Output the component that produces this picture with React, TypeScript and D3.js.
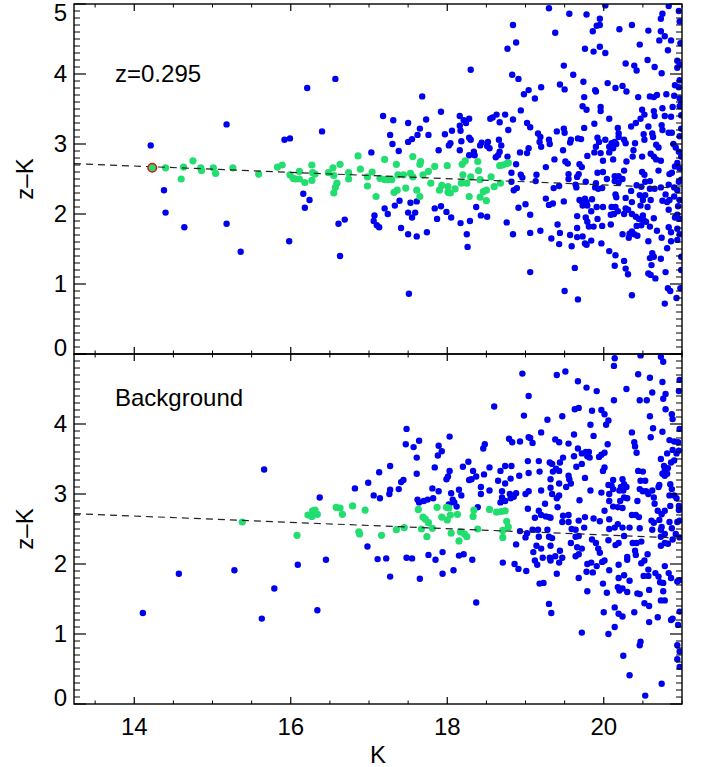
import React from "react";
import * as d3 from "d3";

type P = [number, number];

// K, z-K : cluster field (top panel)
const topGreen: P[] = [
  [14.23,2.66],[14.40,2.66],[14.60,2.50],[14.63,2.67],[14.75,2.76],[14.85,2.66],[14.86,2.62],[15.01,2.66],[15.04,2.58],[15.26,2.66],
  [15.59,2.57],[15.83,2.67],[15.89,2.70],[15.99,2.56],[16.03,2.51],[16.06,2.50],[16.11,2.61],[16.11,2.50],[16.18,2.45],[16.27,2.70],
  [16.28,2.59],[16.27,2.48],[16.31,2.57],[16.48,2.59],[16.54,2.66],[16.55,2.55],[16.63,2.71],[16.59,2.44],[16.57,2.38],[16.55,2.30],
  [16.74,2.59],[16.74,2.50],
  [16.86,2.83],[16.89,2.64],[16.98,2.53],[16.98,2.40],[17.04,2.60],[17.09,2.25],[17.14,2.51],[17.20,2.78],[17.20,2.49],[17.24,2.49],
  [17.29,2.49],[17.32,2.31],[17.35,2.71],[17.36,2.34],[17.37,2.56],[17.44,2.56],[17.47,2.37],[17.53,2.58],[17.56,2.82],[17.56,2.53],
  [17.61,2.34],[17.65,2.25],[17.66,2.75],[17.65,2.71],[17.69,2.56],[17.76,2.61],[17.79,2.44],[17.84,2.68],[17.90,2.34],[17.93,2.41],
  [18.00,2.69],[18.01,2.39],[18.01,2.31],[18.04,2.30],[18.10,2.36],[18.18,2.44],[18.20,2.56],[18.19,2.71],[18.23,2.76],[18.25,2.44],
  [18.28,2.25],[18.30,2.53],[18.39,2.75],[18.40,2.62],[18.42,2.49],[18.42,2.24],[18.46,2.32],[18.50,2.19],[18.50,2.34],[18.56,2.53],
  [18.60,2.39],[18.67,2.69],[18.68,2.44],[18.71,2.70],[18.76,2.72],[18.78,2.73],
];

const topBlue: P[] = [
  [14.21,2.98],[14.38,2.34],[14.40,2.02],[14.64,1.81],[15.18,3.28],[15.18,1.86],[15.36,1.46],[15.92,3.06],[15.99,3.08],[15.98,1.61],
  [16.21,3.80],[16.57,3.93],[16.40,3.18],[16.16,2.29],[16.24,2.20],[16.18,2.09],[16.61,1.86],[16.69,1.92],[16.63,1.40],
  [18.84,4.70],[18.88,4.45],[18.77,4.36],[18.30,4.06],[18.83,3.99],[18.91,3.93],[19.04,3.77],[18.98,3.71],[17.68,3.68],[17.92,3.46],
  [18.94,3.48],[17.18,3.40],[17.31,3.34],[17.73,3.35],[17.50,3.30],[17.65,3.22],[18.16,3.40],[18.21,3.34],[18.24,3.30],[18.28,3.36],
  [18.55,3.36],[18.58,3.38],[18.63,3.42],[18.74,3.42],[18.84,3.35],[18.67,3.31],[19.02,3.30],[19.06,3.24],[18.16,3.26],[18.06,3.19],
  [18.17,3.19],[17.97,3.14],[17.76,3.13],[17.62,3.13],[17.55,3.07],[17.50,3.03],[17.27,3.13],[17.30,3.00],[17.03,2.88],[17.38,2.90],
  [17.89,2.91],[18.04,3.01],[18.02,2.98],[18.28,3.09],[18.30,3.06],[18.18,3.04],[18.16,2.91],[18.34,2.89],[18.35,2.84],[18.28,2.84],
  [18.44,3.02],[18.42,2.98],[18.52,3.03],[18.51,2.97],[18.54,2.94],[18.66,3.06],[18.69,2.98],[18.67,2.89],[18.65,2.84],[18.62,2.81],
  [18.78,3.20],[18.77,2.82],[18.88,2.71],[18.93,2.88],[19.02,2.87],[19.04,2.94],[18.82,2.59],[18.94,2.56],[18.96,2.52],
  [18.82,2.46],[18.85,2.34],[18.89,2.37],[17.20,2.08],[17.24,2.00],[17.33,2.12],[17.39,2.19],[17.07,1.98],[17.06,1.90],[17.10,1.84],
  [17.13,1.81],[17.41,1.80],[17.50,2.02],[17.53,2.16],[17.61,2.18],[17.59,2.02],[17.55,1.95],[17.50,1.71],[17.61,1.68],[17.74,1.74],
  [17.84,2.08],[17.92,2.11],[17.87,1.93],[17.99,2.03],[18.05,1.95],[18.17,1.87],[18.29,1.90],[18.25,1.71],[18.26,1.53],[18.37,2.10],
  [18.43,1.98],[18.51,1.96],[18.76,1.88],[18.84,1.71],[18.91,2.09],[19.00,2.14],[19.06,1.99],[19.06,1.73],[19.06,1.17],[17.51,0.86],
  [19.30,4.94],[19.56,4.86],[19.78,4.85],[20.02,4.98],[19.95,4.79],[19.91,4.69],[19.95,4.70],[19.86,4.61],[19.38,4.59],[20.20,4.64],
  [20.36,4.70],[20.57,4.62],[20.75,4.86],[20.73,4.79],[20.83,4.97],[20.96,4.90],[20.97,4.75],[20.73,4.61],[20.78,4.54],[20.71,4.48],
  [20.86,4.48],[20.82,4.34],[20.46,4.42],[19.95,4.39],[19.76,4.36],[19.87,4.32],[20.02,4.30],[20.28,4.15],[20.39,4.12],[20.42,4.05],
  [20.56,4.20],[20.65,4.10],[20.74,4.01],[20.94,4.19],[20.97,4.14],[20.94,4.09],[19.49,4.12],[19.61,3.99],[19.74,3.89],[20.05,3.87],
  [20.15,3.80],[20.24,3.83],[20.29,3.75],[19.89,3.77],[19.90,3.75],[19.44,3.85],[19.50,3.78],[19.20,3.81],[19.12,3.65],[19.75,3.67],
  [20.44,3.67],[20.59,3.68],[20.64,3.67],[20.68,3.70],[20.80,3.71],[20.91,3.84],[20.96,3.81],[20.97,3.91],[20.90,3.69],[20.97,3.65],
  [19.73,3.54],[19.78,3.49],[19.96,3.53],[19.96,3.47],[20.07,3.36],[20.49,3.49],[20.52,3.42],[20.47,3.36],[20.64,3.47],[20.65,3.40],
  [20.75,3.51],[20.78,3.40],[20.86,3.39],[20.88,3.53],[20.97,3.54],[19.16,3.15],[19.19,3.10],[19.18,3.03],[19.30,3.06],[19.31,3.00],
  [19.20,2.96],[19.40,3.18],[19.49,3.22],[19.50,3.16],[19.58,3.06],[19.57,3.02],[19.67,3.08],[19.71,3.07],[19.48,2.91],[19.75,3.23],
  [19.88,3.29],[19.92,3.09],[19.94,3.03],[20.02,3.06],[19.90,2.96],[19.88,2.88],[19.96,2.87],[20.07,2.96],[20.10,3.01],[20.12,2.94],
  [20.18,3.23],[20.19,3.15],[20.19,3.10],[20.14,3.03],[20.16,3.00],[20.07,2.88],[20.26,3.06],[20.28,3.01],[20.35,3.25],[20.41,3.30],
  [20.40,3.01],[20.38,2.91],[20.51,3.14],[20.52,3.06],[20.57,3.25],[20.62,3.15],[20.63,3.10],[20.67,2.99],[20.70,2.95],[20.74,3.27],
  [20.75,3.20],[20.83,3.16],[20.87,3.16],[20.89,3.00],[20.92,2.95],[20.96,2.89],[20.97,3.11],[19.37,2.78],[19.51,2.75],[19.54,2.72],
  [19.69,2.71],[19.72,2.67],[19.79,2.83],[19.99,2.76],[20.12,2.78],[20.29,2.75],[20.37,2.82],[20.49,2.82],[20.60,2.86],[20.64,2.82],
  [20.67,2.78],[20.73,2.76],[20.94,2.73],[20.91,2.68],[20.97,2.65],[19.26,2.67],[19.14,2.56],[19.55,2.57],[19.68,2.57],[19.66,2.53],
  [19.92,2.59],[19.99,2.60],[20.14,2.54],[20.19,2.54],[20.26,2.62],[20.49,2.60],[20.52,2.56],[20.70,2.62],[20.84,2.57],[20.87,2.59],
  [19.13,2.47],[19.36,2.37],[19.43,2.40],[19.55,2.50],[19.64,2.42],[19.65,2.38],[19.77,2.46],[19.89,2.38],[19.93,2.36],[19.98,2.37],
  [19.90,2.44],[20.04,2.50],[20.14,2.47],[20.19,2.45],[20.24,2.50],[20.35,2.33],[20.42,2.41],[20.48,2.39],[20.53,2.46],[20.59,2.47],
  [20.59,2.36],[20.65,2.36],[20.73,2.38],[20.83,2.42],[20.90,2.38],[20.94,2.34],[20.96,2.46],
  [19.26,2.22],[19.30,2.13],[19.35,2.15],[19.49,2.18],[19.69,2.20],[19.72,2.18],[19.76,2.22],[19.78,2.17],[19.79,2.12],[19.73,2.12],
  [19.85,2.21],[19.84,2.04],[19.91,2.10],[19.99,2.10],[20.15,2.28],[20.16,2.24],[20.10,2.10],[20.28,2.23],[20.36,2.17],[20.46,2.27],
  [20.50,2.20],[20.53,2.27],[20.60,2.20],[20.56,2.10],[20.47,2.12],[20.15,2.10],[20.18,2.04],[20.13,2.00],[20.28,2.08],[20.31,2.06],
  [20.26,2.00],[20.79,2.28],[20.84,2.20],[20.81,2.17],[20.75,2.19],[20.90,2.25],[20.83,2.06],[20.97,2.20],[20.95,2.11],
  [19.19,1.76],[19.41,1.85],[19.44,1.73],[19.33,1.65],[19.43,1.57],[19.57,1.70],[19.59,1.54],[19.66,1.97],[19.66,1.80],[19.66,1.67],
  [19.73,1.68],[19.77,1.95],[19.79,1.89],[19.81,1.82],[19.76,1.58],[19.78,1.56],[19.84,1.62],[19.87,1.82],[19.92,1.93],[19.98,1.83],
  [20.09,1.85],[19.97,1.58],[20.07,1.47],[20.15,1.41],[20.14,1.26],[20.09,1.99],[20.24,1.71],[20.33,1.72],[20.36,1.75],[20.39,1.71],
  [20.32,1.66],[20.43,1.69],[20.26,1.33],[20.28,1.22],[20.31,1.14],[20.36,2.00],[20.41,1.96],[20.45,1.93],[20.50,1.98],[20.51,1.91],
  [20.54,1.89],[20.48,1.84],[20.42,1.83],[20.64,1.94],[20.59,1.82],[20.68,1.76],[20.57,1.61],[20.62,1.44],[20.64,1.39],[20.59,1.37],
  [20.61,1.27],[20.73,1.36],[20.57,1.15],[20.60,1.13],[20.66,1.08],[20.74,1.66],[20.83,1.81],[20.86,1.74],[20.94,1.79],[20.97,1.71],
  [20.94,1.63],[20.86,1.61],[20.81,1.51],[20.94,1.99],[20.91,1.95],[20.97,1.93],[20.79,1.17],[20.82,0.94],[20.85,0.90],[20.98,0.94],
  [20.78,0.72],[20.93,0.80],[19.63,1.23],[19.50,0.90],[19.67,0.78],[20.36,0.84],
  [20.98,4.44],[20.99,3.58],[20.99,3.41],[20.99,3.22],[20.99,2.82],[20.99,2.49],[20.99,1.39],[20.99,1.20],
];

// K, z-K : background field (bottom panel)
const bgGreen: P[] = [
  [15.38,2.60],[16.08,2.41],[16.22,2.70],[16.27,2.68],[16.28,2.76],[16.31,2.77],[16.34,2.71],[16.58,2.81],[16.63,2.80],[16.66,2.71],
  [16.79,2.83],[16.87,2.46],[16.88,2.43],[16.95,2.77],[17.16,2.41],[17.35,2.49],[17.45,2.52],[17.63,2.78],[17.69,2.67],[17.72,2.64],
  [17.76,2.59],[17.67,2.50],[17.74,2.39],[17.81,2.51],[17.87,2.81],[17.93,2.67],[17.99,2.81],[18.02,2.80],[18.04,2.70],[18.00,2.63],
  [18.05,2.44],[18.13,2.71],[18.17,2.46],[18.22,2.43],[18.25,2.39],[18.15,2.33],[18.34,2.77],[18.33,2.68],[18.39,2.50],[18.54,2.78],
  [18.63,2.74],[18.69,2.75],[18.74,2.76],[18.76,2.61],[18.78,2.53],[18.71,2.48],[18.71,2.38],
];

const bgBlue: P[] = [
  [14.11,1.30],[14.57,1.86],[15.28,1.91],[15.66,3.35],[15.79,1.65],[15.63,1.22],[16.09,1.99],[16.37,2.95],[16.45,2.06],[16.34,1.34],
  [16.82,3.08],[16.99,3.16],[16.98,2.25],
  [18.96,4.72],[19.04,4.40],[18.60,4.25],[18.98,4.12],[17.48,3.93],[18.03,3.82],[17.47,3.71],[17.57,3.67],[17.64,3.76],[17.61,3.52],
  [17.89,3.69],[17.93,3.61],[17.88,3.55],[18.48,3.71],[18.46,3.65],[18.79,3.79],[18.83,3.74],[18.93,3.75],[19.04,3.81],[19.03,3.47],
  [17.27,3.40],[17.13,3.31],[17.41,3.17],[17.44,3.20],[17.61,3.29],[17.84,3.38],[18.03,3.33],[18.01,3.25],[17.99,3.21],[18.20,3.39],
  [18.27,3.46],[18.33,3.33],[18.37,3.25],[18.31,3.21],[18.28,3.20],[18.47,3.28],[18.54,3.38],[18.65,3.19],[18.68,3.33],[18.74,3.40],
  [18.82,3.40],[18.74,3.15],[18.81,3.22],[18.92,3.26],[19.04,3.30],[17.06,2.98],[17.14,2.94],[17.27,3.06],[17.26,3.00],[17.38,3.07],
  [17.81,3.08],[17.89,3.04],[17.82,2.94],[17.62,2.92],[17.64,2.88],[17.70,2.90],[17.75,2.92],[18.05,3.01],[18.07,2.92],[18.09,2.88],
  [18.12,2.82],[18.02,2.85],[18.15,3.06],[18.18,2.98],[18.43,3.10],[18.43,3.00],[18.54,3.05],[18.39,2.81],[18.70,3.04],[18.70,2.95],
  [18.68,2.88],[18.74,2.90],[18.80,3.00],[18.81,2.94],[18.85,2.96],[18.88,3.01],[19.00,3.00],[19.04,3.04],
  [18.88,2.28],[19.00,2.38],[19.02,2.44],[18.93,2.47],[17.11,2.07],[17.22,2.08],[17.48,2.09],[17.55,2.08],[17.76,2.13],[17.85,2.06],
  [17.94,2.17],[18.15,2.12],[18.21,2.14],[18.32,2.06],[17.27,1.82],[17.65,1.79],[17.94,1.86],[18.08,1.91],[18.71,2.02],[18.86,2.00],
  [18.91,1.93],[19.01,1.90],[18.37,1.45],
  [20.14,4.94],[20.13,4.83],[20.47,4.98],[20.73,4.96],[20.76,4.89],[19.40,4.70],[19.51,4.75],[19.67,4.61],[19.78,4.52],[19.91,4.47],
  [20.44,4.71],[20.59,4.66],[20.75,4.60],[20.29,4.50],[20.62,4.45],[20.97,4.63],[20.96,4.47],[20.79,4.43],[20.76,4.36],[20.46,4.34],
  [20.55,4.34],[20.13,4.34],[19.63,4.21],[19.68,4.23],[19.47,4.11],[19.85,4.19],[19.97,4.20],[20.01,4.14],[20.06,4.05],[20.03,3.99],
  [19.83,3.99],[19.87,3.83],[19.28,4.06],[19.20,3.88],[19.06,3.80],[19.09,3.73],[19.38,3.78],[19.43,3.74],[19.62,3.85],[19.55,3.72],
  [19.67,3.65],[19.62,3.54],[19.72,3.58],[19.77,3.60],[19.81,3.60],[19.79,3.54],[19.72,3.43],[19.82,3.52],[19.94,3.53],[19.97,3.56],
  [20.01,3.59],[20.05,3.71],[19.99,3.33],[20.01,3.38],[20.36,3.88],[20.39,3.74],[20.40,3.68],[20.42,3.59],[20.59,4.11],[20.63,3.94],
  [20.60,3.81],[20.75,3.89],[20.84,3.77],[20.90,3.75],[20.95,3.74],[20.87,4.14],[20.88,4.07],[20.97,3.93],[20.79,4.21],[20.73,3.50],
  [20.77,3.40],[20.78,3.34],[20.82,3.37],[20.86,3.45],[20.90,3.48],[20.93,3.58],[20.88,3.63],[20.81,3.58],[20.96,3.62],[19.17,3.47],
  [19.18,3.32],[19.20,3.05],[19.31,3.45],[19.34,3.43],[19.44,3.45],[19.48,3.52],[19.39,3.36],[19.43,3.33],[19.35,3.32],[19.32,3.21],
  [19.55,3.26],[19.56,3.21],[19.58,3.15],[19.52,3.10],[19.43,3.15],[19.65,3.39],[19.76,3.23],[19.32,3.09],[19.34,3.00],[19.43,2.98],
  [19.40,2.94],[19.69,2.91],[19.83,3.05],[19.97,3.02],[20.07,3.00],[20.10,3.12],[20.12,3.07],[20.07,2.90],[20.06,3.13],[20.24,3.21],
  [20.26,3.14],[20.22,3.10],[20.20,3.05],[20.25,3.05],[20.29,3.10],[20.26,2.95],[20.21,2.90],[20.12,3.20],[20.30,2.94],[20.12,2.82],
  [20.18,2.81],[20.24,2.80],[20.01,2.76],[20.44,3.33],[20.50,3.32],[20.47,3.19],[20.46,3.07],[20.50,3.04],[20.54,3.04],[20.57,3.00],
  [20.64,2.95],[20.62,3.05],[20.43,2.90],[20.53,3.19],[20.71,3.13],[20.70,3.10],[20.75,3.29],[20.78,3.26],[20.81,3.29],[20.85,3.14],
  [20.87,3.07],[20.84,2.98],[20.90,2.98],[20.93,2.94],[20.78,2.76],[20.85,2.83],[20.65,2.86],[20.69,2.76],[20.74,2.71],[20.96,2.77],
  [20.96,2.83],
  [19.03,2.79],[19.17,2.76],[19.20,2.70],[19.26,2.68],[19.30,2.67],[19.32,2.66],[19.12,2.66],[19.25,2.86],[19.41,2.81],[19.48,2.69],
  [19.47,2.60],[19.55,2.70],[19.55,2.60],[19.68,2.62],[19.76,2.67],[19.87,2.65],[19.95,2.61],[20.07,2.64],[20.14,2.52],[20.07,2.50],
  [20.18,2.57],[20.36,2.70],[20.41,2.70],[20.45,2.67],[20.33,2.52],[20.46,2.51],[20.61,2.62],[20.64,2.59],[20.71,2.63],[20.74,2.53],
  [20.84,2.60],[20.87,2.51],[20.94,2.60],[20.97,2.62],[19.09,2.49],[19.16,2.49],[19.28,2.49],[19.59,2.50],[19.64,2.49],[19.75,2.52],
  [20.24,2.52],[20.62,2.49],[20.73,2.49],
  [19.17,2.39],[19.30,2.39],[19.34,2.37],[19.64,2.39],[19.68,2.40],[19.85,2.35],[20.06,2.34],[20.26,2.40],[20.37,2.30],[20.42,2.30],
  [20.48,2.32],[20.73,2.39],[20.78,2.43],[20.88,2.35],[20.92,2.43],[20.97,2.38],[19.14,2.26],[19.20,2.22],[19.10,2.17],[19.12,2.05],
  [19.15,1.99],[19.22,2.09],[19.32,2.26],[19.31,2.09],[19.32,2.05],[19.38,2.11],[19.44,2.19],[19.43,2.02],[19.47,2.09],[19.58,2.30],
  [19.66,2.24],[19.72,2.22],[19.64,2.11],[19.68,2.14],[19.90,2.30],[19.93,2.22],[19.95,2.16],[19.79,2.00],[19.84,2.02],[19.91,1.97],
  [19.86,1.88],[19.78,1.89],[19.98,2.03],[20.01,2.05],[20.07,1.91],[20.15,2.27],[20.19,2.30],[20.19,1.99],[20.30,2.06],[20.30,2.10],
  [20.19,1.80],[20.26,1.84],[20.33,1.76],[20.18,1.67],[20.24,1.65],[20.30,1.60],[20.20,1.62],[20.04,1.59],[19.99,1.72],[20.40,2.19],
  [20.41,2.13],[20.48,2.01],[20.52,2.05],[20.56,2.14],[20.57,1.92],[20.51,1.83],[20.57,1.83],[20.58,1.63],[20.43,1.58],[20.46,1.57],
  [20.66,1.87],[20.70,1.82],[20.72,1.74],[20.76,1.73],[20.76,1.61],[20.78,1.48],[20.73,1.48],[20.73,2.26],[20.78,2.30],[20.82,2.29],
  [20.78,1.97],[20.83,1.87],[20.86,1.80],[20.94,1.75],[20.97,1.77],[20.95,1.13],[20.88,1.22],[20.86,1.20],[20.97,1.32],[19.18,1.72],
  [19.23,1.73],[19.30,1.43],[19.33,1.30],[19.40,1.86],[19.68,1.80],[19.79,1.61],[20.00,1.31],[20.14,1.38],[20.19,1.29],[20.24,1.25],
  [20.39,1.31],[20.52,1.44],[20.58,1.40],[20.58,1.17],[20.69,1.24],[20.14,1.10],[19.72,1.02],[20.06,1.00],[20.47,0.89],[20.46,0.84],
  [20.94,0.84],[20.97,0.75],[20.94,0.64],[20.97,0.53],[20.25,0.69],[20.33,0.41],[20.74,0.29],[20.53,0.12],
];

const highlightGalaxy: P = [14.23, 2.66];
const fitLineK = [13.23, 21];
const fitLineZK = [2.72, 2.37];
const kDomain = [13.23, 21];
const zkDomain = [0, 5];
const xMajorTicks = [14, 16, 18, 20];
const topYTickLabels = [0, 1, 2, 3, 4, 5];
const bottomYTickLabels = [0, 1, 2, 3, 4];
const panelTitles = ["z=0.295", "Background"];
const xTitle = "K";
const yTitle = "z\u2013K";

const BLUE = "#0000f0";
const GREEN = "#22dd70";
const FONT = "'Liberation Sans', Arial, Helvetica, sans-serif";

export default function App() {
  const W = 702, H = 767;
  const left = 74, right = 682;
  const x = d3.scaleLinear().domain(kDomain).range([left, right]);
  const xMinor = d3.range(13.5, 21.001, 0.5).filter((v) => !xMajorTicks.includes(v));
  const yMinor = d3.range(1, 50).filter((v) => v % 10 !== 0).map((v) => v / 10);
  const yMajor = [0, 1, 2, 3, 4, 5];

  const panels = [
    { id: "top", top: 4, bottom: 354, blue: topBlue, green: topGreen, labels: topYTickLabels, title: panelTitles[0], titleY: 82, ring: true },
    { id: "bot", top: 354, bottom: 704, blue: bgBlue, green: bgGreen, labels: bottomYTickLabels, title: panelTitles[1], titleY: 406, ring: false },
  ];

  return (
    <div style={{ position: "absolute", left: 0, top: 0, width: W, height: H, background: "#fff" }}>
      <svg width={W} height={H} style={{ display: "block" }} fontFamily={FONT}>
        <rect x={0} y={0} width={W} height={H} fill="#fff" />
        <defs>
          {panels.map((p) => (
            <clipPath id={"clip-" + p.id} key={p.id}>
              <rect x={left} y={p.top} width={right - left} height={p.bottom - p.top} />
            </clipPath>
          ))}
        </defs>
        {panels.map((p) => {
          const y = d3.scaleLinear().domain(zkDomain).range([p.bottom, p.top]);
          const line = d3.line<number>().x((d) => x(d)).y((_, i) => y(fitLineZK[i]));
          return (
            <g key={p.id}>
              <g clipPath={`url(#clip-${p.id})`}>
                {p.blue.map((d, i) => (
                  <circle key={"b" + i} cx={x(d[0])} cy={y(d[1])} r={3.2} fill={BLUE} />
                ))}
                {p.green.map((d, i) => (
                  <circle key={"g" + i} cx={x(d[0])} cy={y(d[1])} r={3.6} fill={GREEN} />
                ))}
                <path d={line(fitLineK) || ""} fill="none" stroke="#222" strokeWidth={1.2} strokeDasharray="7,5" />
                {p.ring && (
                  <circle cx={x(highlightGalaxy[0])} cy={y(highlightGalaxy[1])} r={4.3} fill={GREEN} stroke="#e01010" strokeWidth={1.5} />
                )}
              </g>
              <rect x={left} y={p.top} width={right - left} height={p.bottom - p.top} fill="none" stroke="#000" strokeWidth={1.4} />
              {xMajorTicks.map((t) => (
                <g key={"xm" + t}>
                  <line x1={x(t)} x2={x(t)} y1={p.bottom} y2={p.bottom - 7} stroke="#000" strokeWidth={1.2} />
                  <line x1={x(t)} x2={x(t)} y1={p.top} y2={p.top + 7} stroke="#000" strokeWidth={1.2} />
                </g>
              ))}
              {xMinor.map((t) => (
                <g key={"xn" + t}>
                  <line x1={x(t)} x2={x(t)} y1={p.bottom} y2={p.bottom - 3.5} stroke="#000" strokeWidth={1} />
                  <line x1={x(t)} x2={x(t)} y1={p.top} y2={p.top + 3.5} stroke="#000" strokeWidth={1} />
                </g>
              ))}
              {yMajor.map((t) => (
                <g key={"ym" + t}>
                  <line x1={left} x2={left + 12} y1={y(t)} y2={y(t)} stroke="#000" strokeWidth={1.2} />
                  <line x1={right} x2={right - 12} y1={y(t)} y2={y(t)} stroke="#000" strokeWidth={1.2} />
                </g>
              ))}
              {yMinor.map((t) => (
                <g key={"yn" + t}>
                  <line x1={left} x2={left + 6} y1={y(t)} y2={y(t)} stroke="#000" strokeWidth={1} />
                  <line x1={right} x2={right - 6} y1={y(t)} y2={y(t)} stroke="#000" strokeWidth={1} />
                </g>
              ))}
              {p.labels.map((t) => {
                const yy = Math.min(Math.max(y(t), p.top + 9), p.bottom - 6);
                return (
                  <text key={"yl" + t} x={67} y={yy} dy="0.35em" textAnchor="end" fontSize={24} fill="#000">
                    {t}
                  </text>
                );
              })}
              <text
                transform={`translate(33, ${(p.top + p.bottom) / 2}) rotate(-90)`}
                textAnchor="middle"
                fontSize={24}
                fill="#000"
              >
                {yTitle}
              </text>
              <text x={115} y={p.titleY} fontSize={24} fill="#000">
                {p.title}
              </text>
            </g>
          );
        })}
        {xMajorTicks.map((t) => (
          <text key={"xl" + t} x={x(t)} y={735} textAnchor="middle" fontSize={24} fill="#000">
            {t}
          </text>
        ))}
        <text x={378} y={763} textAnchor="middle" fontSize={24} fill="#000">
          {xTitle}
        </text>
      </svg>
    </div>
  );
}
